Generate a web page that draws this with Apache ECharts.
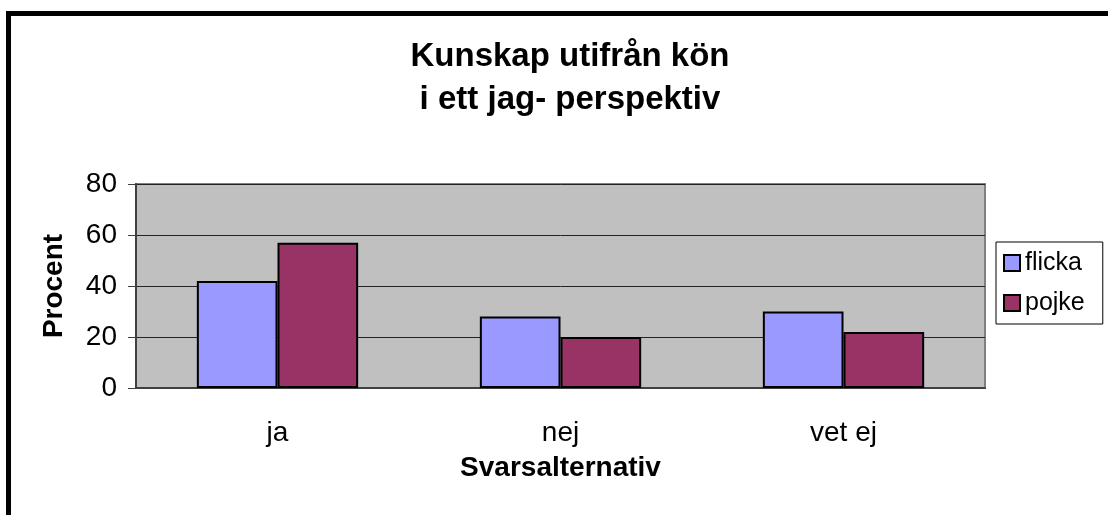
<!DOCTYPE html>
<html>
<head>
<meta charset="utf-8">
<script src="https://cdn.jsdelivr.net/npm/echarts@6/dist/echarts.min.js"></script>
<style>
  html, body { margin: 0; padding: 0; background: #fff; }
  #chart { width: 1108px; height: 515px; }
</style>
</head>
<body>
<div id="chart"></div>
<script>
// data
var categories = ['ja', 'nej', 'vet ej']
var flicka = [42, 28, 30]
var pojke = [57, 20, 22]
var yTicks = [0, 20, 40, 60, 80]

var font = 'Liberation Sans, Arial, sans-serif'
var chart = echarts.init(document.getElementById('chart'))

var option = {
  animation: false,
  backgroundColor: '#fff',
  title: {
    text: 'Kunskap utifrån kön\ni ett jag- perspektiv',
    left: 565,
    textAlign: 'center',
    top: 30,
    textStyle: {
      fontFamily: font, fontSize: 33, fontWeight: 'bold', color: '#000', lineHeight: 43
    }
  },
  legend: {
    orient: 'vertical',
    left: 996,
    top: 242,
    padding: [8, 18, 8, 7],
    itemGap: 14,
    itemWidth: 16,
    itemHeight: 16,
    borderColor: '#000',
    borderWidth: 1,
    icon: 'rect',
    textStyle: { fontFamily: font, fontSize: 25, color: '#000', lineHeight: 26 },
    data: ['flicka', 'pojke']
  },
  grid: {
    left: 136, right: 123, top: 184, bottom: 127,
    show: true,
    backgroundColor: '#c0c0c0',
    borderColor: '#808080',
    borderWidth: 2
  },
  xAxis: {
    type: 'category',
    data: categories,
    name: 'Svarsalternativ',
    nameLocation: 'middle',
    nameGap: 66,
    nameTextStyle: { fontFamily: font, fontSize: 28, fontWeight: 'bold', color: '#000' },
    axisLine: { lineStyle: { color: '#404040', width: 2 } },
    axisTick: { length: 9, lineStyle: { color: '#404040', width: 1 } },
    axisLabel: { fontFamily: font, fontSize: 28, color: '#000', margin: 31 }
  },
  yAxis: {
    type: 'value',
    min: yTicks[0],
    max: yTicks[yTicks.length - 1],
    interval: 20,
    name: 'Procent',
    nameLocation: 'middle',
    nameGap: 68,
    nameTextStyle: { fontFamily: font, fontSize: 28, fontWeight: 'bold', color: '#000' },
    axisLine: { show: true, lineStyle: { color: '#404040', width: 2 } },
    axisTick: { show: true, length: 8, lineStyle: { color: '#404040' } },
    axisLabel: { fontFamily: font, fontSize: 28, color: '#000', margin: 19 },
    splitLine: { lineStyle: { color: '#222', width: 1 } }
  },
  series: [
    {
      name: 'flicka',
      type: 'bar',
      data: flicka,
      barGap: '0%',
      barCategoryGap: '43%',
      itemStyle: { color: '#9999ff', borderColor: '#000', borderWidth: 2 }
    },
    {
      name: 'pojke',
      type: 'bar',
      data: pojke,
      itemStyle: { color: '#993366', borderColor: '#000', borderWidth: 2 }
    }
  ],
  graphic: [
    {
      type: 'rect',
      shape: { x: 8.5, y: 13.5, width: 1400, height: 800 },
      style: { fill: 'none', stroke: '#000', lineWidth: 5 },
      silent: true
    }
  ]
}
chart.setOption(option)
</script>
</body>
</html>
